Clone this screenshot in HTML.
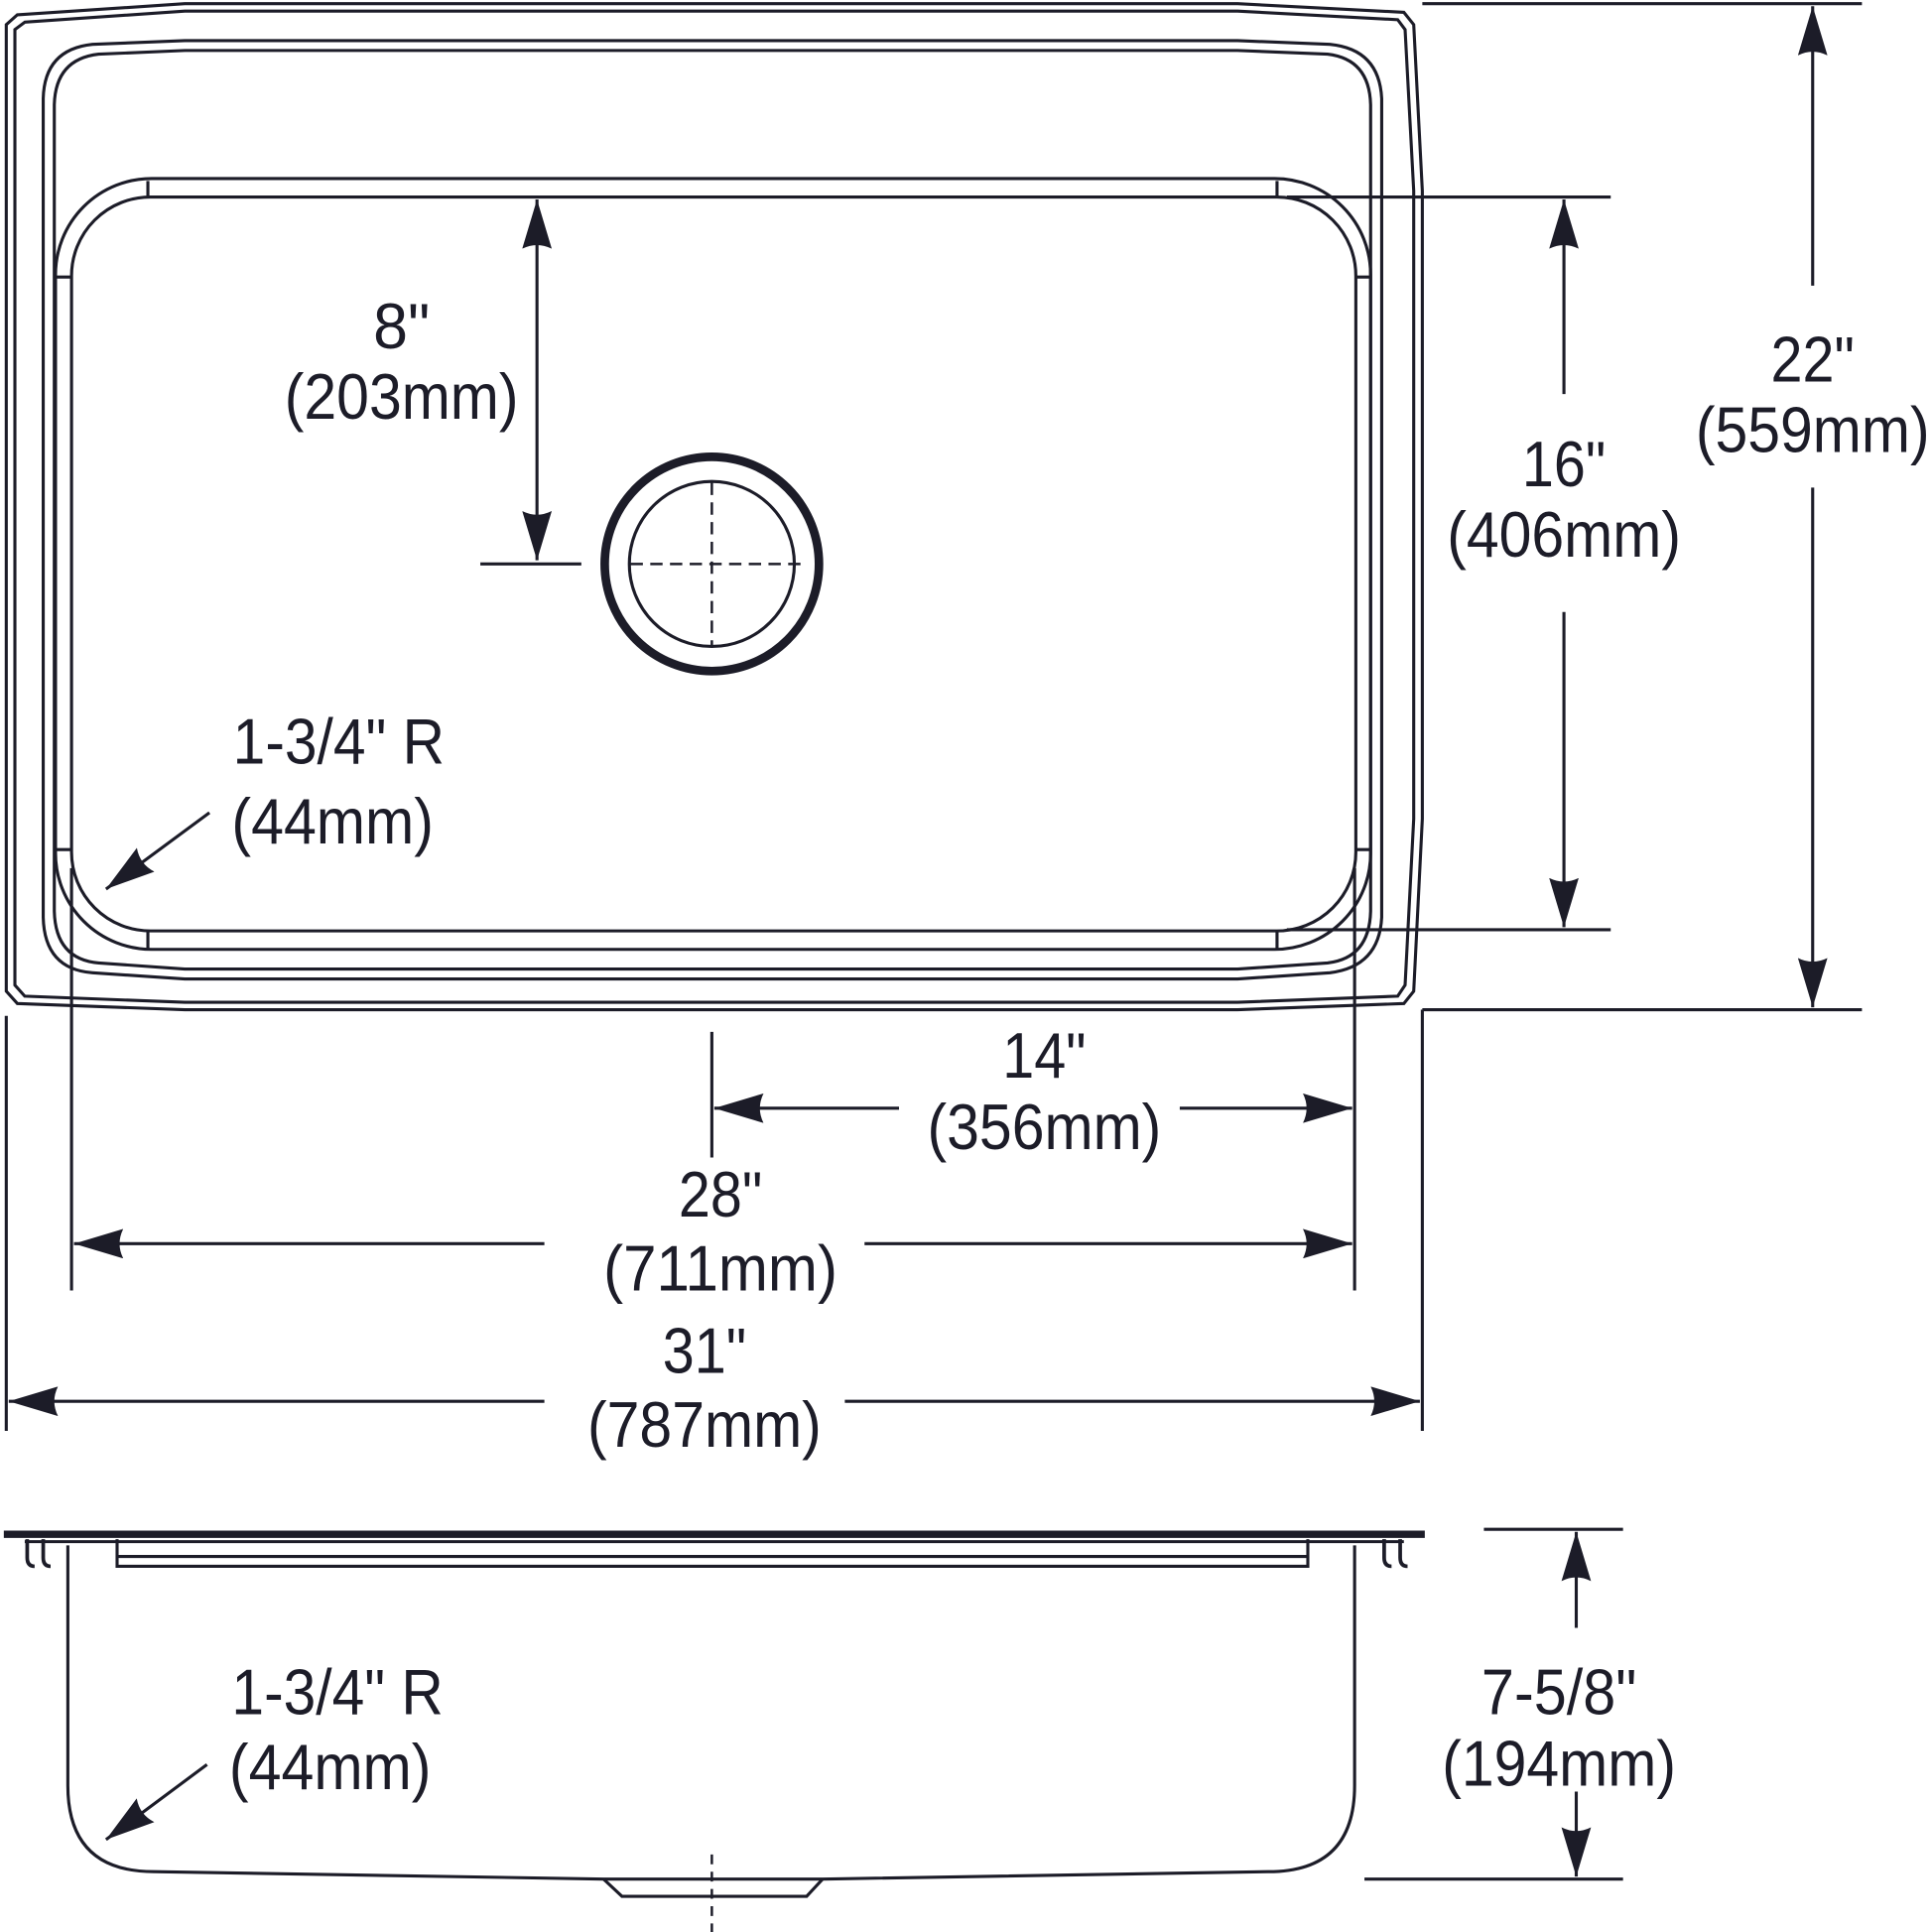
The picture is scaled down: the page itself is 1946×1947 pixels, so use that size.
<!DOCTYPE html>
<html><head><style>html,body{margin:0;padding:0;background:#fff}svg{display:block}</style></head>
<body>
<svg width="1946" height="1947" viewBox="0 0 1568 1569" xmlns="http://www.w3.org/2000/svg">
<defs>
<marker id="a" viewBox="0 0 40 24" refX="40" refY="12" markerWidth="40" markerHeight="24" markerUnits="userSpaceOnUse" orient="auto-start-reverse">
<path d="M40,12 L0,0 Q6,12 0,24 Z" fill="#1c1c28"/>
</marker>
</defs>
<g fill="none" stroke="#1c1c28" stroke-width="2.5">
<path d="M14,12 L150,3 L1005,3 L1140,10 L1148,20 L1155,155 L1155,665 L1148,805 L1140,815 L1005,820 L150,820 L14,815 L5,805 L5,20 Z"/>
<path d="M20,18 L150,9 L1005,9 L1135,16 L1141,24 L1148,155 L1148,665 L1141,800 L1135,809 L1005,814 L150,814 L20,809 L12,800 L12,24 Z"/>
<path d="M75,36 L150,33 L1005,33 L1080,36 Q1120,40 1122,80 L1122,745 Q1120,785 1080,790 L1005,795 L150,795 L75,790 Q36,787 35,745 L35,80 Q36,40 75,36 Z"/>
<path d="M80,44 L150,41 L1005,41 L1078,44 Q1112,48 1113,85 L1113,740 Q1112,778 1078,782 L1005,787 L150,787 L80,782 Q45,779 44,740 L44,85 Q45,48 80,44 Z"/>
<rect x="45" y="145" width="1068" height="626" rx="78"/>
<rect x="58" y="160" width="1043" height="596" rx="64"/>
<path d="M120,147 V160 M1037,147 V160 M120,756 V770 M1037,756 V770 M46,225 H58 M1100,225 H1112 M46,690 H58 M1100,690 H1112"/>
<circle cx="578" cy="458" r="87" stroke-width="7"/>
<circle cx="578" cy="458" r="67"/>
<path d="M512,458 H650 M578,392 V525" stroke-dasharray="10,6" stroke-width="2"/>
<g stroke-width="2.5">
<path d="M436,162 V455" marker-start="url(#a)" marker-end="url(#a)"/>
<path d="M390,458 H472"/>
<path d="M1045,160 H1308 M1045,755 H1308"/>
<path d="M1270,162 V320" marker-start="url(#a)"/>
<path d="M1270,497 V753" marker-end="url(#a)"/>
<path d="M1155,3 H1512 M1155,820 H1512 M1155,820 V1162 M5,825 V1162"/>
<path d="M1472,5 V232" marker-start="url(#a)"/>
<path d="M1472,396 V818" marker-end="url(#a)"/>
<path d="M578,838 V940 M1100,705 V1048 M58,705 V1048"/>
<path d="M580,900 H730" marker-start="url(#a)"/>
<path d="M958,900 H1098" marker-end="url(#a)"/>
<path d="M60,1010 H442" marker-start="url(#a)"/>
<path d="M702,1010 H1098" marker-end="url(#a)"/>
<path d="M7,1138 H442" marker-start="url(#a)"/>
<path d="M686,1138 H1153" marker-end="url(#a)"/>
<path d="M170,660 L86,722" marker-end="url(#a)"/>
<path d="M168,1433 L86,1494" marker-end="url(#a)"/>
<path d="M1205,1242 H1318 M1108,1526 H1318"/>
<path d="M1280,1244 V1322" marker-start="url(#a)"/>
<path d="M1280,1455 V1524" marker-end="url(#a)"/>
</g>
<path d="M3,1246 H1157" stroke-width="6"/>
<path d="M20,1252 H1140"/>
<path d="M95,1250 V1272 H1062 V1250"/>
<path d="M95,1264 H1062"/>
<path d="M55,1255 V1450 Q55,1520 125,1520 L490,1526 H668 L1030,1520 Q1100,1520 1100,1450 V1255"/>
<path d="M490,1526 L505,1540 H655 L668,1526"/>
<path d="M578,1506 V1569" stroke-dasharray="8,6" stroke-width="2"/>
<path d="M22,1250 V1265 Q22,1272 28,1272 M35,1250 V1265 Q35,1272 41,1272 M1124,1250 V1265 Q1124,1272 1130,1272 M1137,1250 V1265 Q1137,1272 1143,1272" stroke-width="3"/>
</g>
<g font-family="Liberation Sans, sans-serif" font-size="52" fill="#1c1c28" text-anchor="middle">
<text x="326" y="283" textLength="46" lengthAdjust="spacingAndGlyphs">8"</text>
<text x="326" y="340" textLength="190" lengthAdjust="spacingAndGlyphs">(203mm)</text>
<text x="1270" y="395" textLength="68" lengthAdjust="spacingAndGlyphs">16"</text>
<text x="1270" y="452" textLength="190" lengthAdjust="spacingAndGlyphs">(406mm)</text>
<text x="1472" y="310" textLength="68" lengthAdjust="spacingAndGlyphs">22"</text>
<text x="1472" y="367" textLength="190" lengthAdjust="spacingAndGlyphs">(559mm)</text>
<text x="275" y="620" textLength="172" lengthAdjust="spacingAndGlyphs">1-3/4" R</text>
<text x="270" y="685" textLength="164" lengthAdjust="spacingAndGlyphs">(44mm)</text>
<text x="848" y="875" textLength="68" lengthAdjust="spacingAndGlyphs">14"</text>
<text x="848" y="933" textLength="190" lengthAdjust="spacingAndGlyphs">(356mm)</text>
<text x="585" y="988" textLength="68" lengthAdjust="spacingAndGlyphs">28"</text>
<text x="585" y="1048" textLength="190" lengthAdjust="spacingAndGlyphs">(711mm)</text>
<text x="572" y="1115" textLength="68" lengthAdjust="spacingAndGlyphs">31"</text>
<text x="572" y="1175" textLength="190" lengthAdjust="spacingAndGlyphs">(787mm)</text>
<text x="274" y="1392" textLength="172" lengthAdjust="spacingAndGlyphs">1-3/4" R</text>
<text x="268" y="1453" textLength="164" lengthAdjust="spacingAndGlyphs">(44mm)</text>
<text x="1266" y="1392" textLength="126" lengthAdjust="spacingAndGlyphs">7-5/8"</text>
<text x="1266" y="1450" textLength="190" lengthAdjust="spacingAndGlyphs">(194mm)</text>
</g>
</svg>
</body></html>
